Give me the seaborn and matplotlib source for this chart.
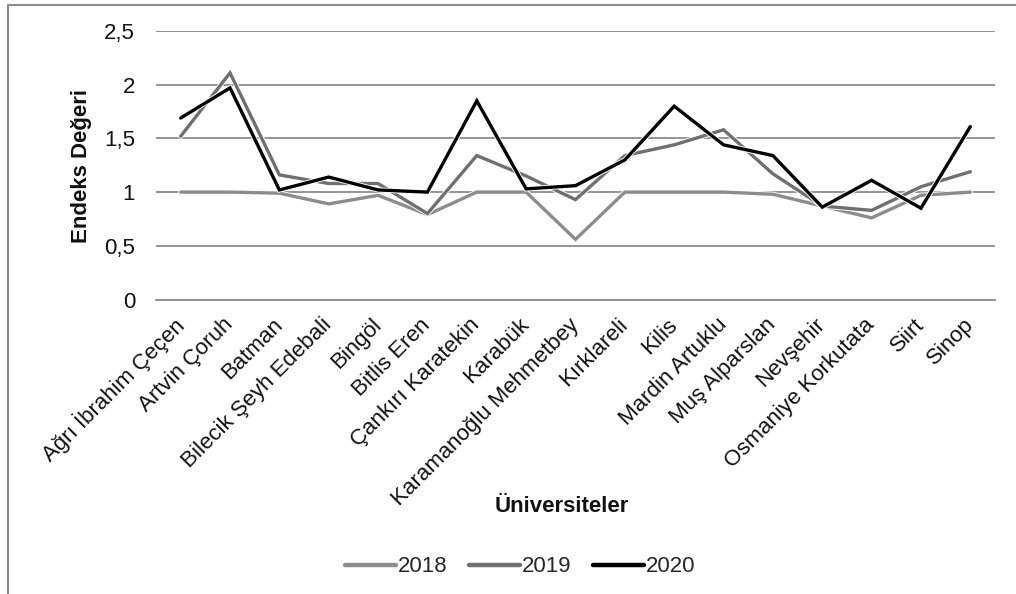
import matplotlib
matplotlib.use("Agg")
import matplotlib.pyplot as plt
import matplotlib.patheffects as pe
import seaborn as sns
import pandas as pd

universities = ["Ağrı İbrahim Çeçen", "Artvin Çoruh", "Batman", "Bilecik Şeyh Edebali",
                "Bingöl", "Bitlis Eren", "Çankırı Karatekin", "Karabük",
                "Karamanoğlu Mehmetbey", "Kırklareli", "Kilis", "Mardin Artuklu",
                "Muş Alparslan", "Nevşehir", "Osmaniye Korkutata", "Siirt", "Sinop"]
v2018 = [1.00, 1.00, 0.99, 0.89, 0.97, 0.79, 1.00, 1.00, 0.56, 1.00, 1.00, 1.00,
         0.98, 0.87, 0.76, 0.97, 1.00]
v2019 = [1.52, 2.11, 1.16, 1.08, 1.08, 0.80, 1.34, 1.15, 0.93, 1.34, 1.44, 1.58,
         1.17, 0.87, 0.83, 1.05, 1.19]
v2020 = [1.69, 1.97, 1.02, 1.14, 1.02, 1.00, 1.85, 1.03, 1.06, 1.30, 1.80, 1.44,
         1.34, 0.86, 1.11, 0.85, 1.61]
years = ["2018", "2019", "2020"]
yticks = [0, 0.5, 1, 1.5, 2, 2.5]
ytick_labels = ["0", "0,5", "1", "1,5", "2", "2,5"]

rows = []
for yr, vals in zip(years, [v2018, v2019, v2020]):
    for u, v in zip(universities, vals):
        rows.append({"Üniversite": u, "Yıl": yr, "Değer": v})
df = pd.DataFrame(rows)

sns.set_theme(style="white")
plt.rcParams["font.family"] = ["Liberation Sans", "DejaVu Sans"]

FS = 16
fig = plt.figure(figsize=(10.16, 5.94), dpi=100)
W, H = 1016, 594
ax = fig.add_axes([156 / W, 1 - 299.5 / H, (995 - 156) / W, (299.5 - 31) / H])

palette = {"2018": "#8c8c8c", "2019": "#6f6f6f", "2020": "#000000"}
sns.lineplot(data=df, x="Üniversite", y="Değer", hue="Yıl", palette=palette,
             sort=False, linewidth=2.4, ax=ax, legend=True)

for line in ax.get_lines():
    line.set_path_effects([pe.Stroke(linewidth=3.7, foreground="white"), pe.Normal()])
    line.set_solid_joinstyle("miter")

ax.set_xlim(-0.5, len(universities) - 0.5)
ax.set_ylim(0, 2.5)
ax.set_yticks(yticks)
ax.set_yticklabels(ytick_labels, fontsize=FS, color="#111111")
ax.set_xticks(range(len(universities)))
ax.set_xticklabels(universities, rotation=45, ha="right", va="center",
                   rotation_mode="anchor", fontsize=FS, color="#111111")
ax.tick_params(axis="both", length=0)
ax.tick_params(axis="y", pad=15)
ax.tick_params(axis="x", pad=16)
ax.yaxis.grid(True, color="#8c8c8c", linewidth=1.3)
ax.set_axisbelow(True)
for s in ["top", "right", "left"]:
    ax.spines[s].set_visible(False)
ax.spines["bottom"].set_color("#8c8c8c")
ax.spines["bottom"].set_linewidth(1.3)
ax.set_xlabel("")
ax.set_ylabel("")

fig.text(82 / W, 1 - 166 / H, "Endeks Değeri", rotation=90, fontsize=FS,
         fontweight="bold", ha="center", va="center", color="#111111")
fig.text(562 / W, 1 - 506 / H, "Üniversiteler", fontsize=FS, fontweight="bold",
         ha="center", va="center", color="#111111")

handles, labels = ax.get_legend_handles_labels()
ax.legend_.remove()
for h in handles:
    h.set_linewidth(3.2)
leg = fig.legend(handles, labels, loc="center", bbox_to_anchor=(520 / W, 1 - 567 / H),
                 ncol=3, frameon=False, fontsize=FS, handlelength=2.3,
                 handletextpad=0.1, columnspacing=0.95)

border = plt.Rectangle((8 / W, -0.1), 1.2, 1 - 5 / H + 0.1, transform=fig.transFigure,
                       fill=False, edgecolor="#8c8c8c", linewidth=1.5)
fig.patches.append(border)

fig.savefig("out.png", dpi=100, facecolor="white")
